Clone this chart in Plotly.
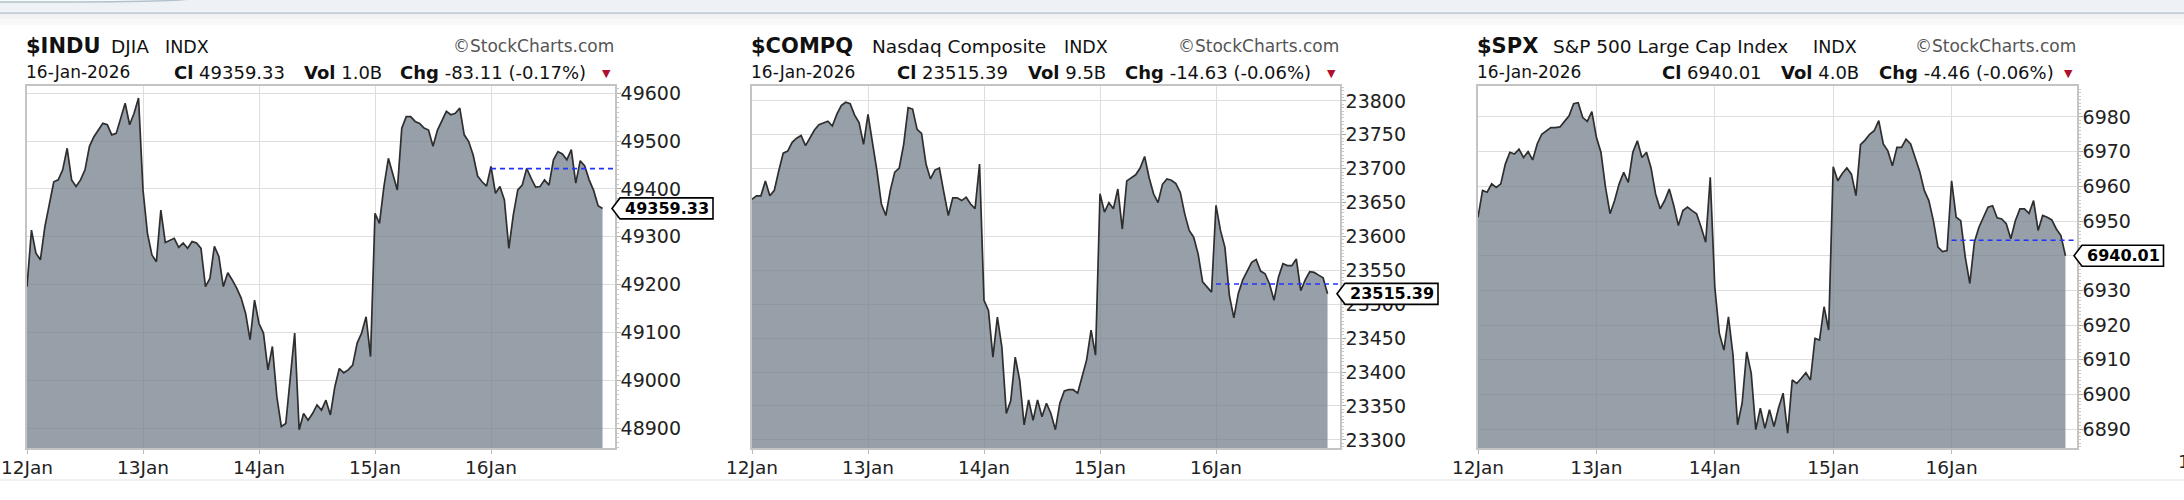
import plotly.graph_objects as go

W, H = 2184, 500

# ---------------- data ----------------
day_labels = ["12Jan", "13Jan", "14Jan", "15Jan", "16Jan"]
BARS_PER_DAY = 26  # 15-minute bars

indu = [
    # 12 Jan
    49196, 49314, 49266, 49252, 49321, 49370, 49415, 49419, 49440, 49485, 49419, 49405, 49419,
    49440, 49489, 49509, 49523, 49537, 49534, 49513, 49516, 49548, 49579, 49534, 49558, 49590,
    # 13 Jan
    49398, 49307, 49262, 49248, 49356, 49288, 49293, 49297, 49278, 49287, 49276, 49290, 49287,
    49276, 49196, 49213, 49280, 49259, 49196, 49225, 49210, 49193, 49172, 49140, 49085, 49168,
    # 14 Jan
    49119, 49099, 49022, 49071, 48966, 48904, 48910, 49008, 49099, 48897, 48931, 48917, 48931,
    48949, 48938, 48959, 48928, 48987, 49025, 49016, 49022, 49032, 49078, 49099, 49133, 49050,
    # 15 Jan
    49349, 49328, 49405, 49464, 49429, 49398, 49527, 49551, 49551, 49541, 49537, 49527, 49523,
    49489, 49523, 49544, 49562, 49555, 49558, 49569, 49513, 49499, 49471, 49427, 49415, 49406,
    # 16 Jan
    49447, 49391, 49405, 49377, 49276, 49346, 49398, 49408, 49443, 49422, 49404, 49405, 49419,
    49408, 49461, 49478, 49473, 49461, 49482, 49412, 49459, 49448, 49419, 49397, 49365, 49359.33,
]

compq = [
    23655, 23660, 23660, 23682, 23660, 23668, 23697, 23723, 23726, 23739, 23745, 23749, 23734,
    23745, 23757, 23765, 23768, 23770, 23763, 23780, 23793, 23798, 23796, 23779, 23768, 23736,
    23780, 23741, 23697, 23648, 23631, 23668, 23695, 23701, 23736, 23790, 23788, 23758, 23752,
    23707, 23685, 23698, 23701, 23665, 23631, 23657, 23657, 23653, 23658, 23648, 23641, 23707,
    23506, 23491, 23422, 23481, 23437, 23339, 23358, 23422, 23388, 23322, 23359, 23329, 23359,
    23334, 23354, 23339, 23315, 23354, 23372, 23374, 23374, 23369, 23393, 23418, 23462, 23425,
    23663, 23636, 23650, 23641, 23670, 23611, 23682, 23686, 23691, 23701, 23718, 23687, 23663,
    23650, 23677, 23685, 23683, 23678, 23665, 23633, 23609, 23599, 23574, 23533, 23526, 23518,
    23646, 23609, 23584, 23513, 23480, 23516, 23536, 23548, 23562, 23566, 23549, 23545, 23530,
    23506, 23540, 23560, 23557, 23557, 23567, 23520, 23536, 23548, 23547, 23543, 23539, 23515.39,
]

spx = [
    6951.1, 6958.8, 6958.3, 6960.7, 6959.7, 6960.7, 6966.4, 6969.8, 6969.3, 6970.7, 6968.3, 6970.0, 6967.6,
    6972.2, 6975.0, 6976.0, 6976.9, 6976.9, 6977.1, 6978.7, 6980.3, 6983.8, 6984.1, 6979.8, 6978.7, 6981.5,
    6974.1, 6969.8, 6959.7, 6952.1, 6955.9, 6960.7, 6964.0, 6961.1, 6969.8, 6973.1, 6968.3, 6969.8, 6965.3,
    6957.8, 6953.5, 6955.9, 6959.2, 6954.4, 6948.7, 6953.0, 6954.0, 6953.0, 6952.1, 6948.2, 6943.9, 6962.6,
    6931.0, 6917.6, 6912.8, 6922.4, 6911.4, 6891.3, 6897.5, 6912.3, 6906.1, 6889.9, 6896.1, 6890.3, 6895.6,
    6890.8, 6896.1, 6900.4, 6888.9, 6904.2, 6903.2, 6904.7, 6906.3, 6904.2, 6916.2, 6915.7, 6925.3, 6918.6,
    6965.6, 6961.6, 6963.7, 6965.3, 6963.5, 6957.3, 6972.0, 6973.3, 6975.0, 6976.0, 6978.9, 6972.2, 6970.2,
    6965.9, 6971.2, 6971.2, 6973.6, 6972.2, 6968.3, 6964.3, 6958.8, 6955.9, 6950.1, 6942.5, 6941.2, 6941.5,
    6961.6, 6951.1, 6950.1, 6939.6, 6932.0, 6943.9, 6948.2, 6951.1, 6954.0, 6954.4, 6950.9, 6950.6, 6949.2,
    6944.9, 6950.1, 6953.5, 6953.5, 6952.2, 6955.9, 6947.3, 6951.6, 6951.1, 6950.3, 6947.7, 6945.8, 6940.01,
]

symbols = ["$INDU", "$COMPQ", "$SPX"]
names = ["DJIA", "Nasdaq Composite", "S&P 500 Large Cap Index"]
exchange = "INDX"
date_label = "16-Jan-2026"
close_txt = ["49359.33", "23515.39", "6940.01"]
volumes = ["1.0B", "9.5B", "4.0B"]
changes = [-83.11, -14.63, -4.46]
change_pct = [-0.17, -0.06, -0.06]
series = [indu, compq, spx]

# ---------------- layout geometry (pixels) ----------------
plot_left = [27, 752, 1478]
plot_right = [615, 1340, 2077]
plot_top, plot_bottom = 86, 448
day_px = [116, 116, 118.4]
y_ranges = [(48859, 49615), (23288, 23822), (6884.6, 6988.9)]
y_dtick = [100, 50, 10]
y_minor = [10, 5, 1]
# header offsets from plot left (px)
name_off = [82, 118, 73]
indx_off = [136, 310, 333]
cl_off = [145, 143, 182]
vol_off = [275, 274, 301]
chg_off = [371, 371, 399]

FONT = "DejaVu Sans, Verdana, sans-serif"
FILL = "rgba(118,130,142,0.76)"
LINE = "#2e2e2e"
GRID = "#dedede"
BORDER = "#c4c4c4"


def px(x):
    return x / W


def py(y):
    return 1 - y / H


fig = go.Figure()
annotations = []
shapes = []

for i in range(3):
    vals = series[i]
    xs = [d + k / BARS_PER_DAY for d in range(len(day_labels)) for k in range(BARS_PER_DAY)]
    xid = "" if i == 0 else str(i + 1)
    xmax = (plot_right[i] - plot_left[i]) / day_px[i]
    ymin, ymax = y_ranges[i]
    ppu = (plot_bottom - plot_top) / (ymax - ymin)
    v = vals[-1]
    dh = 10.5 / ppu

    fig.add_trace(go.Scatter(
        x=xs, y=vals, mode="lines", fill="tozeroy", fillcolor=FILL,
        line=dict(color=LINE, width=1.7), xaxis="x" + xid, yaxis="y" + xid,
        hoverinfo="skip", showlegend=False,
    ))
    prev_close = vals[-1] - changes[i]
    fig.add_trace(go.Scatter(
        x=[len(day_labels) - 1, xmax], y=[prev_close, prev_close], mode="lines",
        line=dict(color="#2233ff", width=1.6, dash="5px,4px"),
        xaxis="x" + xid, yaxis="y" + xid, hoverinfo="skip", showlegend=False,
    ))

    # y tick values; labels fully hidden under the last-value box are left blank
    first = int(ymin // y_dtick[i] + 1) * y_dtick[i]
    tvals = list(range(first, int(ymax) + 1, y_dtick[i]))
    ttext = ["" if abs(t - v) < dh * 0.6 else str(t) for t in tvals]

    fig.update_layout(**{
        "xaxis" + xid: dict(
            domain=[px(plot_left[i]), px(plot_right[i])], range=[0, xmax],
            anchor="y" + xid, tickvals=list(range(len(day_labels))), ticktext=day_labels,
            showgrid=True, gridcolor=GRID, gridwidth=1,
            showline=True, linecolor=BORDER, linewidth=1.5, mirror=True,
            ticks="outside", ticklen=4, tickcolor="#bbbbbb", ticklabelstandoff=-2,
            tickfont=dict(family=FONT, size=18.5, color="#222"),
            zeroline=False, fixedrange=True, automargin=False,
        ),
        "yaxis" + xid: dict(
            domain=[py(plot_bottom), py(plot_top)], range=[ymin, ymax],
            anchor="x" + xid, side="right", tickvals=tvals, ticktext=ttext,
            showgrid=True, gridcolor=GRID, gridwidth=1,
            showline=True, linecolor=BORDER, linewidth=1.5, mirror=True,
            ticks="outside", ticklen=4, tickcolor="#aaaaaa", ticklabelstandoff=-4,
            minor=dict(dtick=y_minor[i], tick0=0, ticks="outside", ticklen=2,
                       tickcolor="#c8c8c8", showgrid=False),
            tickfont=dict(family=FONT, size=19, color="#222"),
            zeroline=False, fixedrange=True, automargin=False,
        ),
    })

    L = plot_left[i]
    R = plot_right[i]
    row1, row2 = 46, 72

    def ann(text, x, y, size, anchor="left", color="#111", family=FONT):
        annotations.append(dict(
            text=text, x=px(x), y=py(y), xref="paper", yref="paper",
            xanchor=anchor, yanchor="middle", showarrow=False,
            font=dict(family=family, size=size, color=color),
        ))

    ann("<b>" + symbols[i] + "</b>", L - 3, row1, 21)
    ann(names[i], L + name_off[i], row1 + 1, 18.5)
    ann(exchange, L + indx_off[i], row1 + 1, 17.5)
    ann("\u00a9StockCharts.com", R + 1, row1, 17, anchor="right", color="#555")
    ann(date_label, L - 3, row2, 17)
    ann("<b>Cl</b> " + close_txt[i], L + cl_off[i], row2, 18)
    ann("<b>Vol</b> " + volumes[i], L + vol_off[i], row2, 18)
    ann("<b>Chg</b> %.2f (%.2f%%)" % (changes[i], change_pct[i]), L + chg_off[i], row2, 18)
    ann("\u25bc", R - 2, row2 + 1, 11, anchor="right", color="#b01030")

    # last value marker box
    tip = R - 3
    bl = tip + 8
    br = bl + 11.5 * len(close_txt[i]) + 1
    path = "M %f,%f L %f,%f L %f,%f L %f,%f L %f,%f Z" % (
        px(tip), v, px(bl), v + dh, px(br), v + dh, px(br), v - dh, px(bl), v - dh)
    shapes.append(dict(type="path", path=path, xref="paper", yref="y" + xid,
                       fillcolor="white", line=dict(color="black", width=1.6), layer="above"))
    annotations.append(dict(
        text="<b>" + close_txt[i] + "</b>", x=px((bl + br) / 2 + 0.5), y=v, xref="paper",
        yref="y" + xid, xanchor="center", yanchor="middle", showarrow=False,
        font=dict(family=FONT, size=16, color="#000"),
    ))

# cut-off first label of a following chart at the far right edge
annotations.append(dict(
    text=day_labels[0], x=px(plot_left[2] + 726), y=py(461), xref="paper", yref="paper",
    xanchor="center", yanchor="middle", showarrow=False,
    font=dict(family=FONT, size=18.5, color="#222"),
))

# page chrome (top bar and separators)
shapes += [
    dict(type="rect", xref="paper", yref="paper", x0=0, x1=1, y0=py(12.5), y1=1,
         fillcolor="#eef2f6", line=dict(width=0), layer="below"),
    dict(type="path", xref="paper", yref="paper",
         path="M %f,%f L %f,%f Q %f,%f %f,%f L %f,%f Z" % (
             px(-4), py(-2), px(-4), py(2), px(191), py(2.5), px(195), py(-2), px(-4), py(-2)),
         fillcolor="#f7f9fb", line=dict(color="#b4c0cc", width=1.5), layer="below"),
    dict(type="line", xref="paper", yref="paper", x0=0, x1=1, y0=py(13.2), y1=py(13.2),
         line=dict(color="#c3ccd5", width=2), layer="below"),
    dict(type="rect", xref="paper", yref="paper", x0=0, x1=1, y0=py(19), y1=py(14.2),
         fillcolor="#f1f2f3", line=dict(width=0), layer="below"),
    dict(type="rect", xref="paper", yref="paper", x0=0, x1=1, y0=py(25), y1=py(19),
         fillcolor="#f8f8f8", line=dict(width=0), layer="below"),
    dict(type="line", xref="paper", yref="paper", x0=0, x1=1, y0=py(480), y1=py(480),
         line=dict(color="#ececec", width=1.5), layer="below"),
]

fig.update_layout(
    width=W, height=H, margin=dict(l=0, r=0, t=0, b=0, autoexpand=False),
    paper_bgcolor="white", plot_bgcolor="white",
    annotations=annotations, shapes=shapes, showlegend=False,
    font=dict(family=FONT),
)

fig.write_html("out.html", config={"displayModeBar": False},
               post_script="document.body.style.margin='0';document.body.style.overflow='hidden';")
